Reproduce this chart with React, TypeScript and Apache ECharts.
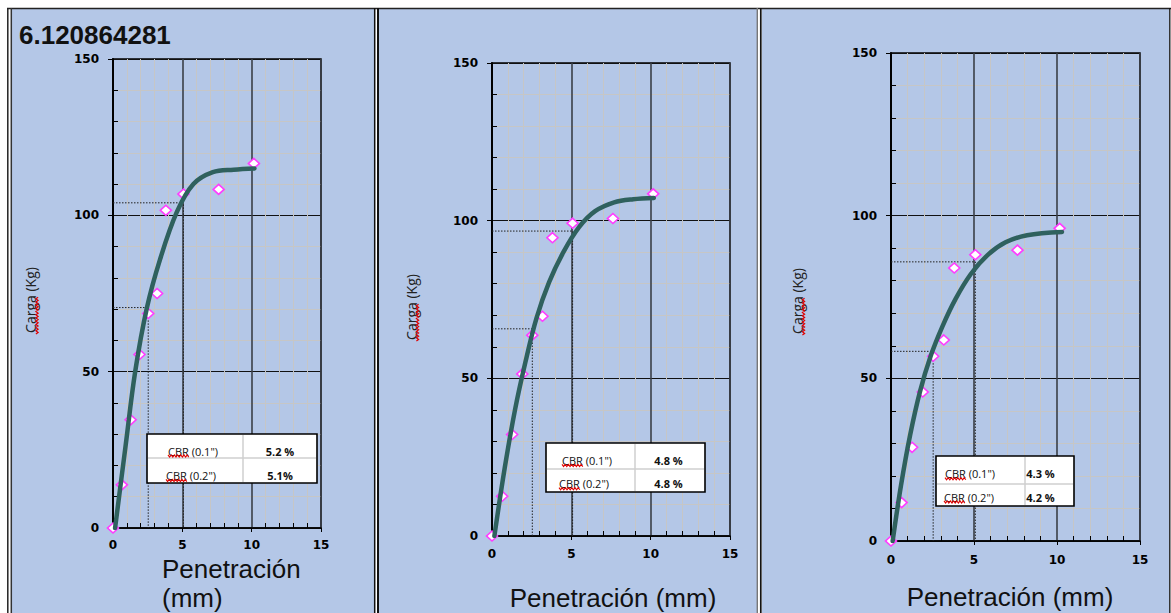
import React, { useEffect, useRef } from "react";
import * as echarts from "echarts";

// ---------- DATA ----------
const titleText = "6.120864281";
const yAxisTitle = "Carga (Kg)";
const xAxisTitle = "Penetración (mm)";
const xAxisTitleLines = ["Penetración", "(mm)"];

const penetration = [0, 0.64, 1.27, 1.91, 2.54, 3.18, 3.81, 5.08, 7.62, 10.16];
const load1 = [0, 13.8, 34.6, 55.5, 68.6, 75, 101.6, 106.8, 108.3, 116.6];
const load2 = [0, 12.6, 32.2, 51.4, 63.7, 69.7, 94.6, 99.2, 100.7, 108.5];
const load3 = [0, 11.8, 28.8, 45.8, 56.8, 61.8, 83.9, 88, 89.4, 96.1];

const curve1X = [0.15, 0.9, 1.6, 2.45, 3.4, 4.6, 5.8, 7.2, 8.7, 10.2];
const curve1Y = [0, 26, 50, 70.5, 86, 101, 110, 113.8, 114.6, 115];
const curve2X = [0.15, 0.8, 1.45, 2.1, 2.8, 3.6, 4.5, 5.5, 6.5, 7.7, 8.9, 10.2];
const curve2Y = [0, 21.5, 40, 55, 69, 80.5, 90, 98, 103, 105.8, 106.8, 107.2];
const curve3X = [0.1, 0.6, 1.15, 1.75, 2.4, 3.1, 3.9, 4.8, 5.8, 6.9, 8.2, 10.3];
const curve3Y = [0, 17, 32.5, 46, 57, 66, 74.5, 82, 87.8, 91.8, 94, 95];

const stdPenetration = [2.54, 5.08];
const corrected1 = [70.5, 104];
const corrected2 = [65.7, 96.7];
const corrected3 = [58.3, 85.8];

const cbrLabels = ['CBR (0.1")', 'CBR (0.2")'];
const cbr1 = ["5.2 %", "5.1%"];
const cbr2 = ["4.8 %", "4.8 %"];
const cbr3 = ["4.3 %", "4.2 %"];

// ---------- LAYOUT ----------
const W = 1171;
const H = 613;
const BLUE = "#b4c7e7";

const panelsData = [
  { load: load1, cx: curve1X, cy: curve1Y, corr: corrected1, cbr: cbr1 },
  { load: load2, cx: curve2X, cy: curve2Y, corr: corrected2, cbr: cbr2 },
  { load: load3, cx: curve3X, cy: curve3Y, corr: corrected3, cbr: cbr3 },
];

const layouts = [
  {
    grid: { left: 113, top: 59, width: 208, height: 469 },
    xLabelMargin: 11,
    yName: [30.5, 300],
    xName: { mode: "two", x: 162, y: [569, 598] },
    table: { x: 147, y: 434, w: 170, h: 49, colX: 243, rowY: 458, labelX: [168, 166], valX: 280, textY: [451, 475.5] },
  },
  {
    grid: { left: 492, top: 63, width: 238, height: 473 },
    xLabelMargin: 12,
    yName: [411, 307],
    xName: { mode: "one", x: 613, y: 598 },
    table: { x: 546, y: 443, w: 159, h: 49, colX: 635, rowY: 469, labelX: [562, 559], valX: 668.5, textY: [460.5, 483.7] },
  },
  {
    grid: { left: 891, top: 53, width: 249, height: 488 },
    xLabelMargin: 13,
    yName: [797, 301],
    xName: { mode: "one", x: 1010, y: 597 },
    table: { x: 936, y: 456, w: 138, h: 50, colX: 1025, rowY: 484, labelX: [945, 944], valX: 1040.5, textY: [473.7, 497] },
  },
];

function wave(x0: number, y0: number, len: number, vertical: boolean) {
  const pts: number[][] = [];
  let k = 0;
  for (let t = 0; t <= len; t += 1.6) {
    const o = (k % 2 === 0 ? -1 : 1) * 1.1;
    pts.push(vertical ? [x0 + o, y0 - t] : [x0 + t, y0 + o]);
    k++;
  }
  return pts;
}

function buildOption() {
  const tickFont = { fontFamily: "DejaVu Sans", fontWeight: "bold" as const, fontSize: 12, color: "#000" };
  const grids = layouts.map((l) => ({
    ...l.grid,
    show: true,
    borderColor: "#000",
    borderWidth: 1.5,
    backgroundColor: "transparent",
  }));
  const xAxes = layouts.map((l, i) => ({
    type: "value",
    gridIndex: i,
    min: 0,
    max: 15,
    interval: 5,
    axisLine: { show: true, onZero: false, lineStyle: { color: "#000", width: 1.5 } },
    axisTick: { show: true, length: 4, lineStyle: { color: "#000" } },
    minorTick: { show: true, splitNumber: 5, length: -5, lineStyle: { color: "#000" } },
    splitLine: { show: true, lineStyle: { color: "#3a3f48", width: 1.6 } },
    minorSplitLine: { show: true, lineStyle: { color: "#c6c6c6", width: 1 } },
    axisLabel: { ...tickFont, margin: l.xLabelMargin },
  }));
  const yAxes = layouts.map((l, i) => ({
    type: "value",
    gridIndex: i,
    min: 0,
    max: 150,
    interval: 50,
    axisLine: { show: true, onZero: false, lineStyle: { color: "#000", width: 2 } },
    axisTick: { show: true, length: 5, lineStyle: { color: "#000" } },
    minorTick: { show: true, splitNumber: 5, length: -5, lineStyle: { color: "#000" } },
    splitLine: { show: true, lineStyle: { color: "#111", width: 1.2 } },
    minorSplitLine: { show: true, lineStyle: { color: "#c6c6c6", width: 1 } },
    axisLabel: { ...tickFont, margin: 14 },
  }));

  const series: any[] = [];
  panelsData.forEach((p, i) => {
    stdPenetration.forEach((sp, k) => {
      series.push({
        type: "line",
        xAxisIndex: i,
        yAxisIndex: i,
        data: [[0, p.corr[k]], [sp, p.corr[k]], [sp, 0]],
        symbol: "none",
        silent: true,
        lineStyle: { color: "#222", width: 1, type: [1.5, 1.5] },
        z: 2,
      });
    });
    series.push({
      type: "scatter",
      xAxisIndex: i,
      yAxisIndex: i,
      data: penetration.map((x, j) => [x, p.load[j]]),
      symbol: "diamond",
      symbolSize: [11, 10],
      clip: false,
      itemStyle: { color: "#ffffff", borderColor: "#ff3cff", borderWidth: 1.6, opacity: 1 },
      z: 3,
    });
    series.push({
      type: "line",
      xAxisIndex: i,
      yAxisIndex: i,
      data: p.cx.map((x, j) => [x, p.cy[j]]),
      smooth: 0.35,
      symbol: "none",
      lineStyle: { color: "#2f615e", width: 4.5, cap: "round" },
      z: 4,
    });
  });

  const el: any[] = [];
  el.push({ type: "rect", shape: { x: 12, y: 9, width: 362, height: H }, style: { fill: BLUE }, z: -100, silent: true });
  el.push({ type: "rect", shape: { x: 379, y: 9, width: 378, height: H }, style: { fill: BLUE }, z: -100, silent: true });
  el.push({ type: "rect", shape: { x: 762, y: 9, width: 407, height: H }, style: { fill: BLUE }, z: -100, silent: true });
  const vline = (x: number, w: number, c: string, y0 = 8) =>
    ({ type: "line", shape: { x1: x, y1: y0, x2: x, y2: H }, style: { stroke: c, lineWidth: w }, z: 50, silent: true });
  el.push({ type: "line", shape: { x1: 7, y1: 8.5, x2: W, y2: 8.5 }, style: { stroke: "#222", lineWidth: 1.5 }, z: 50, silent: true });
  el.push(vline(7.8, 1.5, "#222"));
  el.push(vline(11.3, 1.5, "#333"));
  el.push(vline(374.7, 1.5, "#111"));
  el.push(vline(378, 2, "#111"));
  el.push(vline(757.3, 1.4, "#777"));
  el.push(vline(760.8, 1.7, "#111"));
  el.push(vline(1169.8, 1.3, "#111"));

  el.push({
    type: "text", x: 19, y: 35, z: 60, silent: true,
    style: { text: titleText, font: "bold 26px 'Liberation Sans', Arial, sans-serif", fill: "#111", textAlign: "left", textVerticalAlign: "middle" },
  });

  layouts.forEach((l, i) => {
    el.push({
      type: "text", x: l.yName[0], y: l.yName[1], rotation: Math.PI / 2, z: 60, silent: true,
      style: { text: yAxisTitle, font: "14px 'Open Sans', sans-serif", fill: "#222", textAlign: "center", textVerticalAlign: "middle" },
    });
    el.push({
      type: "polyline", z: 61, silent: true,
      shape: { points: wave(l.yName[0] + 6.5, l.yName[1] + 34, 38, true) },
      style: { stroke: "#e00000", lineWidth: 1.2, fill: "none" },
    });
    if (l.xName.mode === "two") {
      const ys = l.xName.y as number[];
      xAxisTitleLines.forEach((t, k) => {
        el.push({
          type: "text", x: l.xName.x, y: ys[k], z: 60, silent: true,
          style: { text: t, font: "26px 'Liberation Sans', Arial, sans-serif", fill: "#111", textAlign: "left", textVerticalAlign: "middle" },
        });
      });
    } else {
      el.push({
        type: "text", x: l.xName.x, y: l.xName.y as number, z: 60, silent: true,
        style: { text: xAxisTitle, font: "26px 'Liberation Sans', Arial, sans-serif", fill: "#111", textAlign: "center", textVerticalAlign: "middle" },
      });
    }
    const t = l.table;
    el.push({ type: "rect", z: 70, silent: true, shape: { x: t.x, y: t.y, width: t.w, height: t.h }, style: { fill: "#fff", stroke: "#000", lineWidth: 1.6 } });
    el.push({ type: "line", z: 71, silent: true, shape: { x1: t.colX, y1: t.y + 1, x2: t.colX, y2: t.y + t.h - 1 }, style: { stroke: "#cfcfcf", lineWidth: 1.5 } });
    el.push({ type: "line", z: 71, silent: true, shape: { x1: t.x + 1, y1: t.rowY, x2: t.x + t.w - 1, y2: t.rowY }, style: { stroke: "#cfcfcf", lineWidth: 1.5 } });
    cbrLabels.forEach((lab, k) => {
      el.push({
        type: "text", x: t.labelX[k], y: t.textY[k], z: 72, silent: true,
        style: { text: lab, font: "11px 'Open Sans', sans-serif", fill: "#111", textAlign: "left", textVerticalAlign: "middle" },
      });
      el.push({
        type: "polyline", z: 73, silent: true,
        shape: { points: wave(t.labelX[k], t.textY[k] + 5, 22, false) },
        style: { stroke: "#e00000", lineWidth: 1.1, fill: "none" },
      });
      el.push({
        type: "text", x: t.valX, y: t.textY[k], z: 72, silent: true,
        style: { text: panelsData[i].cbr[k], font: "bold 11px 'Open Sans', sans-serif", fill: "#111", textAlign: "center", textVerticalAlign: "middle" },
      });
    });
  });

  return {
    animation: false,
    backgroundColor: "#ffffff",
    grid: grids,
    xAxis: xAxes,
    yAxis: yAxes,
    series,
    graphic: { elements: el },
  };
}

export default function App() {
  const ref = useRef<HTMLDivElement>(null);
  useEffect(() => {
    document.body.style.margin = "0";
    if (!ref.current) return;
    const chart = echarts.init(ref.current, undefined, { renderer: "svg" });
    chart.setOption(buildOption() as any);
    return () => chart.dispose();
  }, []);
  return <div ref={ref} style={{ width: W, height: H }} />;
}
